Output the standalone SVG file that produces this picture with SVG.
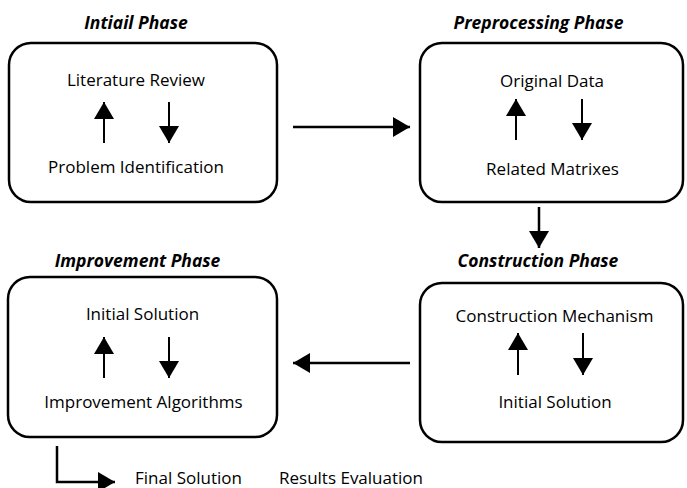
<svg xmlns="http://www.w3.org/2000/svg" width="687" height="488" viewBox="0 0 687 488">
<style>
.box{fill:#fff;stroke:#000;stroke-width:2.5}
.t{font-family:"Open Sans","Liberation Sans",sans-serif;font-size:17px;fill:#000;text-anchor:middle}
.h{font-family:"Open Sans","Liberation Sans",sans-serif;font-size:17.5px;font-weight:bold;font-style:italic;fill:#000;text-anchor:middle}
.a{stroke:#000;stroke-width:2;fill:none;marker-end:url(#ah)}
.c{stroke:#000;stroke-width:2.5;fill:none;marker-end:url(#ah)}
</style>
<defs>
<marker id="ah" viewBox="0 0 17 20" refX="17" refY="10" markerWidth="17" markerHeight="20" markerUnits="userSpaceOnUse" orient="auto">
<path d="M0,0 L17,10 L0,20 Z" fill="#000"/>
</marker>
</defs>
<g id="initial">
<text class="h" x="136" y="29">Intiail Phase</text>
<rect class="box" x="9" y="43" width="268" height="159" rx="22"/>
<text class="t" x="136" y="86">Literature Review</text>
<line class="a" x1="104" y1="143" x2="104" y2="102"/>
<line class="a" x1="169" y1="102" x2="169" y2="143"/>
<text class="t" x="136" y="173">Problem Identification</text>
</g>
<g id="preprocessing">
<text class="h" x="538.5" y="29">Preprocessing Phase</text>
<rect class="box" x="420" y="43" width="263" height="159" rx="22"/>
<text class="t" x="552" y="87">Original Data</text>
<line class="a" x1="516" y1="140" x2="516" y2="99"/>
<line class="a" x1="582" y1="99" x2="582" y2="140"/>
<text class="t" x="552.5" y="175">Related Matrixes</text>
</g>
<g id="improvement">
<text class="h" x="137.5" y="267">Improvement Phase</text>
<rect class="box" x="8" y="277" width="269" height="160" rx="22"/>
<text class="t" x="142.5" y="320">Initial Solution</text>
<line class="a" x1="104" y1="378" x2="104" y2="337"/>
<line class="a" x1="169" y1="337" x2="169" y2="378"/>
<text class="t" x="143.5" y="408">Improvement Algorithms</text>
</g>
<g id="construction">
<text class="h" x="538" y="267">Construction Phase</text>
<rect class="box" x="420" y="283" width="263" height="159" rx="22"/>
<text class="t" x="554.5" y="322">Construction Mechanism</text>
<line class="a" x1="518" y1="375" x2="518" y2="333"/>
<line class="a" x1="583" y1="333" x2="583" y2="375"/>
<text class="t" x="555" y="408">Initial Solution</text>
</g>
<g id="final">
<text class="t" x="135" y="484" style="text-anchor:start">Final Solution</text>
<text class="t" x="279" y="484" style="text-anchor:start">Results Evaluation</text>
</g>
<g id="connectors">
<line class="c" x1="293" y1="127" x2="410" y2="127"/>
<line class="c" x1="539" y1="207" x2="539" y2="248"/>
<line class="c" x1="410" y1="363" x2="293" y2="363"/>
<polyline class="c" points="57,446 57,482 115,482"/>
</g>
</svg>
